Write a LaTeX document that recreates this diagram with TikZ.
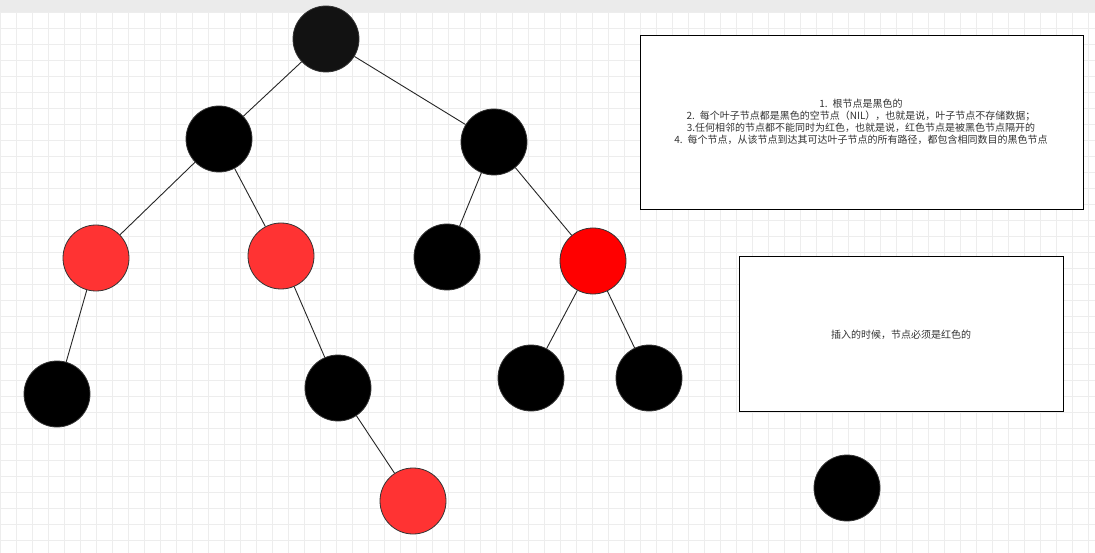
\documentclass[tikz,border=0pt]{standalone}
\usepackage{fontspec}
\setmainfont{Noto Sans CJK SC}
\begin{document}
\begin{tikzpicture}[x=1pt,y=-1pt,
  nd/.style={circle,draw=black!80,line width=0.8pt,minimum size=66pt,inner sep=0pt},
  blk/.style={nd,fill=black},
  red1/.style={nd,fill={rgb,255:red,255;green,51;blue,51}},
  red2/.style={nd,fill={rgb,255:red,255;green,0;blue,0}},
  edge/.style={draw=black!85,line width=0.9pt},
  box/.style={draw=black,line width=1pt,fill=white,align=center,font=\fontsize{10}{12}\selectfont,text=black!80}]
\fill[white] (0,0) rectangle (1095,553);
\useasboundingbox (0,0) rectangle (1095,553);
\fill[black!8] (0,0) rectangle (1095,12);
\foreach \x in {0,16,...,1095} \draw[black!7,line width=0.5pt] (\x,12) -- (\x,553);
\foreach \y in {12,28,...,553} \draw[black!7,line width=0.5pt] (0,\y) -- (1095,\y);
\node[blk,fill=black!93] (root) at (326,39) {};
\node[blk] (A) at (219,139) {};
\node[blk] (B) at (494,142) {};
\node[red1] (C) at (96,258) {};
\node[red1] (D) at (281,256) {};
\node[blk] (E) at (447,257) {};
\node[red2] (F) at (593,261) {};
\node[blk] (G) at (57,394) {};
\node[blk] (H) at (338,388) {};
\node[blk] (I) at (531,378) {};
\node[blk] (J) at (649,378) {};
\node[red1] (K) at (413,501) {};
\node[blk] (L) at (847,488) {};
\foreach \a/\b in {root/A,root/B,A/C,A/D,B/E,B/F,C/G,D/H,H/K,F/I,F/J}
  \draw[edge] (\a) -- (\b);
\draw[box] (640,36) rectangle (1083,210);
\node[box,draw=none,fill=none,text width=425pt] (t1) at (861,122) {1. 根节点是黑色的\\2. 每个叶子节点都是黑色的空节点（NIL），也就是说，叶子节点不存储数据；\\3.任何相邻的节点都不能同时为红色，也就是说，红色节点是被黑色节点隔开的\\4. 每个节点，从该节点到达其可达叶子节点的所有路径，都包含相同数目的黑色节点};
\draw[box] (739,257) rectangle (1063,411);
\node[box,draw=none,fill=none] (t2) at (901,335) {插入的时候，节点必须是红色的};
\end{tikzpicture}
\end{document}
